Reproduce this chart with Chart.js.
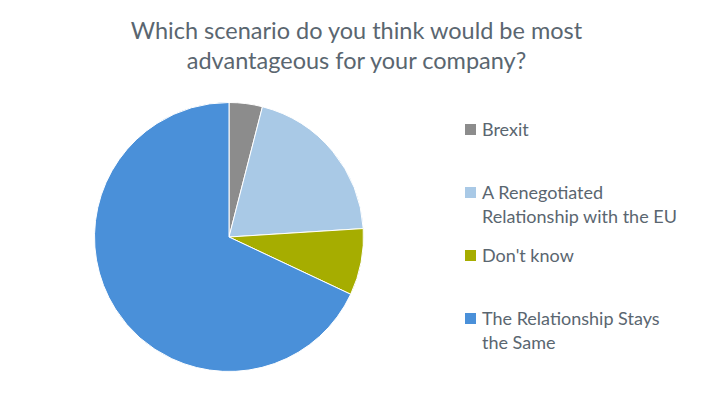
<!DOCTYPE html>
<html>
<head>
<meta charset="utf-8">
<script src="https://cdn.jsdelivr.net/npm/chart.js@4/dist/chart.umd.min.js"></script>
<style>
  html, body { margin: 0; padding: 0; background: #fff; }
  body { width: 713px; height: 394px; position: relative; overflow: hidden; font-family: Lato, "Open Sans", sans-serif; color: #5a6670; }
  #title { position: absolute; left: 0; top: 15px; width: 713px; text-align: center; font-size: 23.5px; line-height: 30px; }
  #pieBox { position: absolute; left: 94px; top: 102px; width: 270px; height: 270px; }
  #legend { position: absolute; left: 465px; top: 117px; display: flex; flex-direction: column; gap: 15px; }
  .item { display: flex; min-height: 48px; font-size: 18px; line-height: 24px; }
  .swatch { width: 11px; height: 11px; margin-top: 7px; margin-right: 6px; flex: none; }
  .label { width: 196px; }
</style>
</head>
<body>
<div id="title">Which scenario do you think would be most<br>advantageous for your company?</div>
<div id="pieBox"><canvas id="chartPie"></canvas></div>
<div id="legend"></div>

<script>
/* =========================
   DADOS
========================= */

const categories = [
  "Brexit",
  "A Renegotiated Relationship with the EU",
  "Don't know",
  "The Relationship Stays the Same"
];
const shares = [4, 20, 8, 68];
const sliceColors = ["#8c8c8c", "#a9c9e6", "#a6ad00", "#4a90d9"];

/* =========================
   LEGENDA
========================= */

const legend = document.getElementById("legend");
categories.forEach((name, i) => {
  const item = document.createElement("div");
  item.className = "item";
  item.innerHTML = '<div class="swatch" style="background:' + sliceColors[i] + '"></div>' +
    '<div class="label"></div>';
  item.querySelector(".label").textContent = name;
  legend.appendChild(item);
});

/* =========================
   CHART
========================= */

new Chart(document.getElementById("chartPie"), {
  type: "pie",
  data: {
    labels: categories,
    datasets: [
      {
        data: shares,
        backgroundColor: sliceColors,
        borderWidth: 1,
        borderColor: "#ffffff"
      }
    ]
  },
  options: {
    responsive: true,
    maintainAspectRatio: false,
    animation: false,
    layout: { padding: 0 },
    plugins: {
      legend: { display: false },
      tooltip: { enabled: false }
    }
  }
});
</script>
</body>
</html>
